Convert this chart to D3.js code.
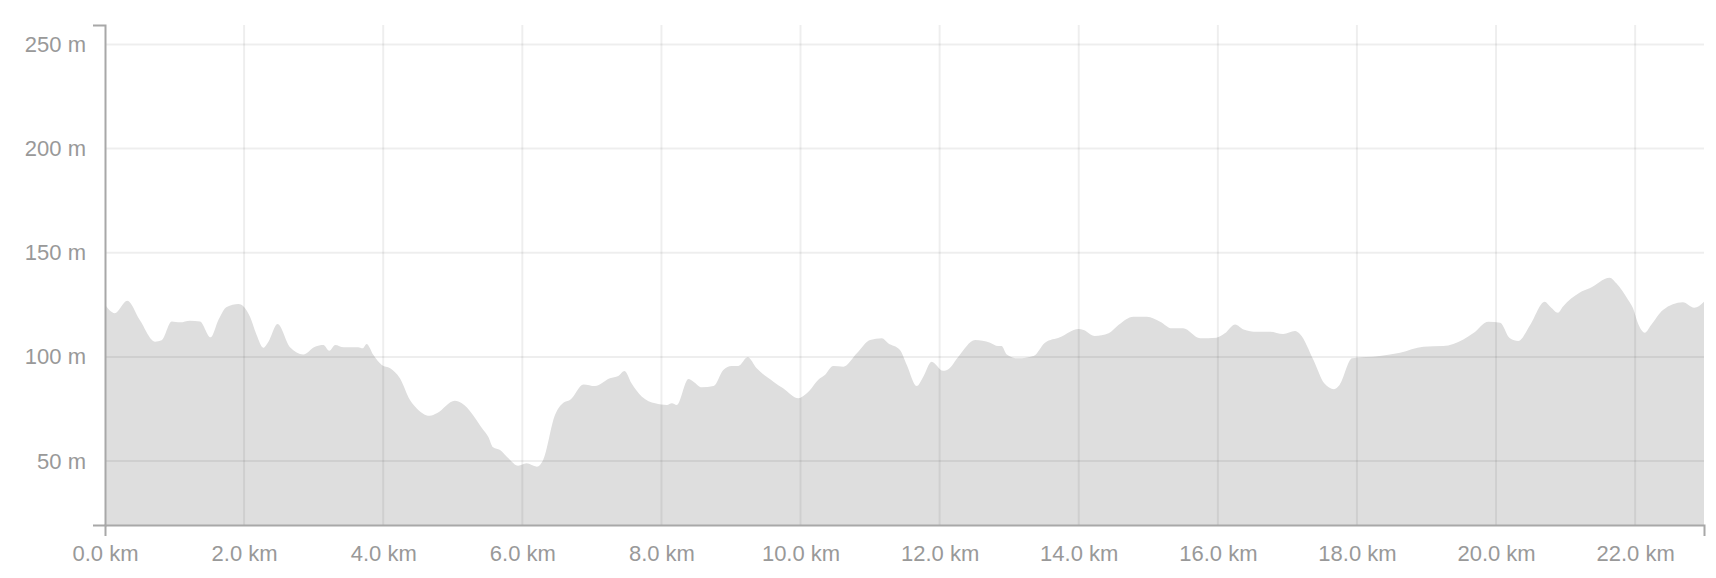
<!DOCTYPE html>
<html>
<head>
<meta charset="utf-8">
<script src="https://cdn.jsdelivr.net/npm/d3@7"></script>
<style>
  html, body { margin: 0; padding: 0; background: #fff; }
  svg { display: block; }
  .tick text { font-family: "Liberation Sans", Arial, sans-serif; }
</style>
</head>
<body>
<svg id="chart" width="1716" height="578"></svg>
<script>
// Distance along route (km)
const distanceKm = [
  0.00, 0.14, 0.32, 0.50, 0.72, 0.815, 0.96, 1.08, 1.22, 1.366, 1.52, 1.63, 1.75, 1.92,
  2.085, 2.18, 2.276, 2.35, 2.48, 2.66, 2.85, 3.02, 3.14, 3.225, 3.31, 3.43, 3.64, 3.705,
  3.76, 3.86, 3.98, 4.10, 4.24, 4.385, 4.46, 4.67, 4.77, 5.03, 5.13, 5.44, 5.51, 5.58,
  5.68, 5.80, 5.94, 6.06, 6.21, 6.30, 6.47, 6.59, 6.685, 6.88, 7.045, 7.26, 7.38, 7.47,
  7.57, 7.72, 7.91, 8.08, 8.15, 8.22, 8.39, 8.46, 8.58, 8.75, 8.89, 9.01, 9.105, 9.24,
  9.37, 9.61, 9.75, 9.97, 10.09, 10.28, 10.35, 10.47, 10.615, 10.81, 11.00, 11.17, 11.26,
  11.43, 11.53, 11.67, 11.765, 11.885, 12.05, 12.125, 12.27, 12.51, 12.725, 12.84, 12.89,
  12.965, 13.13, 13.35, 13.515, 13.73, 13.995, 14.07, 14.23, 14.43, 14.57, 14.785, 14.98,
  15.17, 15.34, 15.50, 15.745, 15.98, 16.10, 16.25, 16.37, 16.56, 16.75, 16.94, 17.11,
  17.18, 17.375, 17.53, 17.67, 17.75, 17.93, 18.33, 18.62, 18.955, 19.24, 19.53, 19.67,
  19.89, 20.06, 20.20, 20.32, 20.49, 20.70, 20.78, 20.89, 20.96, 21.20, 21.345, 21.635,
  21.73, 21.90, 21.97, 22.04, 22.14, 22.23, 22.40, 22.685, 22.85, 22.99
];
// Elevation (m)
const elevationM = [
  125, 121, 127, 117.7, 107.3, 108, 117, 116.6, 117.4, 117, 109.4, 117.7, 124, 125.4,
  119.3, 110.5, 104.4, 107.3, 115.8, 104.6, 101.2, 104.9, 105.7, 102.9, 105.7, 104.6, 104.6, 104.1,
  106.2, 100.9, 96.1, 94.5, 89.7, 79.3, 76.1, 71.7, 72.9, 78.9, 77.7, 64.9, 61.7, 56.6,
  55.3, 51.3, 47.7, 48.9, 47.3, 50.5, 72.1, 78, 79.3, 86.8, 86, 89.7, 90.8, 93.2,
  87.3, 80.9, 77.7, 76.9, 77.7, 76.9, 89.4, 88.1, 85.4, 86, 93.7, 95.6, 95.6, 99.8,
  94.5, 88.1, 84.9, 80.1, 82.5, 89.7, 91.3, 95.6, 95.3, 101.7, 108.1, 108.9, 106.5,
  103.3, 96, 86, 90.5, 97.7, 93.3, 94.1, 100.1, 108.1, 106.8, 105.2, 105.2,
  101.2, 99.3, 100.4, 106.8, 109.4, 113.4, 112.9, 110, 111.3, 115.3, 119.3, 119.3,
  116.9, 113.7, 113.7, 108.9, 109.2, 111.3, 115.6, 113.2, 112.1, 112.1, 111, 112.4,
  111, 98.5, 87.3, 84.5, 86.5, 99.3, 100.4, 102, 104.9, 105.2, 108.4, 111.3,
  116.9, 116.4, 108.9, 107.6, 115.3, 126.5, 124.1, 121.2, 124.1, 130.8, 132.9, 138,
  135.3, 127.3, 123.3, 116.1, 111.6, 115.3, 122.5, 126.2, 123.6, 126.5
];
const xTickValues = [0, 2, 4, 6, 8, 10, 12, 14, 16, 18, 20, 22];
const yTickValues = [50, 100, 150, 200, 250];
const xDomain = [0, 22.99];
const yDomain = [19.3, 259.3];

const W = 1716, H = 578;
const margin = { top: 25, right: 12, bottom: 53, left: 105 };
const svg = d3.select("#chart");

const x = d3.scaleLinear().domain(xDomain).range([margin.left, W - margin.right]);
const y = d3.scaleLinear().domain(yDomain).range([H - margin.bottom, margin.top]);

const data = distanceKm.map((d, i) => ({ d, e: elevationM[i] }));

// area
const area = d3.area()
  .x(p => x(p.d))
  .y0(y(yDomain[0]))
  .y1(p => y(p.e))
  .curve(d3.curveMonotoneX);

svg.append("path")
  .datum(data)
  .attr("d", area)
  .attr("fill", "#dedede");

// grid
const grid = svg.append("g").attr("stroke", "rgba(0,0,0,0.065)").attr("stroke-width", 2);
grid.selectAll("line.h").data(yTickValues).join("line")
  .attr("class", "h")
  .attr("x1", x(xDomain[0])).attr("x2", x(xDomain[1]))
  .attr("y1", d => y(d)).attr("y2", d => y(d));
grid.selectAll("line.v").data(xTickValues.filter(v => v > 0)).join("line")
  .attr("class", "v")
  .attr("y1", y(yDomain[0])).attr("y2", y(yDomain[1]))
  .attr("x1", d => x(d)).attr("x2", d => x(d));

// axes
const axisColor = "#a8a8a8", textColor = "#999";

const xAxis = d3.axisBottom(x)
  .tickValues(xTickValues)
  .tickFormat(d => d3.format(".1f")(d) + " km")
  .tickSizeInner(0).tickSizeOuter(11).tickPadding(20);
const gx = svg.append("g").attr("transform", `translate(0,${y(yDomain[0])})`).call(xAxis);

const yAxis = d3.axisLeft(y)
  .tickValues(yTickValues)
  .tickFormat(d => d + " m")
  .tickSizeInner(0).tickSizeOuter(12).tickPadding(19);
const gy = svg.append("g").attr("transform", `translate(${x(xDomain[0])},0)`).call(yAxis);

[gx, gy].forEach(g => {
  g.select(".domain").attr("stroke", axisColor).attr("stroke-width", 2);
  g.selectAll(".tick line").attr("stroke", axisColor);
  g.selectAll(".tick text")
    .attr("fill", textColor)
    .style("font-size", "22px")
    .style("font-family", "'Liberation Sans', Arial, sans-serif");
});
</script>
</body>
</html>
